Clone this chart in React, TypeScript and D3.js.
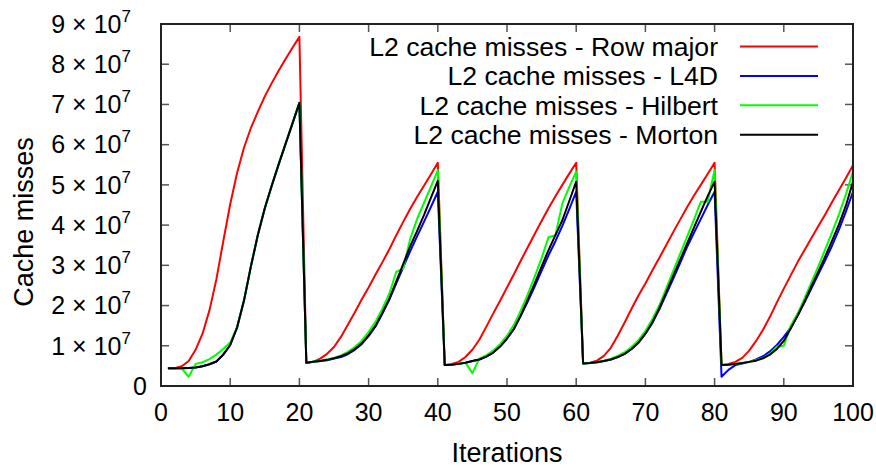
import React from "react";
import * as d3 from "d3";

// Iteration index (x) for every sample
const iterations: number[] = d3.range(1, 101);

// L2 cache misses per iteration, in millions
const rowMajor: number[] = [
  4.4, 4.4, 4.9, 6.2, 9.0, 13.0, 18.8, 26.5, 36.0, 45.2, 53.0, 59.3, 64.2, 68.2, 72.0, 75.3, 78.4, 81.3, 84.1, 86.8,
  5.7, 6.0, 6.8, 8.0, 9.7, 12.2, 15.2, 18.3, 21.5, 24.5, 27.7, 30.8, 34.0, 37.5, 40.8, 44.0, 47.0, 49.8, 52.6, 55.5,
  5.2, 5.5, 6.0, 7.2, 9.0, 11.5, 14.7, 18.0, 21.2, 24.5, 27.8, 31.2, 34.5, 37.8, 41.0, 44.2, 47.2, 50.0, 52.8, 55.5,
  5.6, 5.8, 6.3, 7.5, 9.5, 12.5, 15.8, 19.2, 22.5, 25.5, 28.7, 31.8, 35.0, 38.2, 41.3, 44.4, 47.3, 50.0, 52.7, 55.5,
  5.2, 5.5, 6.0, 7.0, 8.8, 11.2, 14.0, 17.2, 20.8, 24.2, 27.5, 30.8, 33.8, 36.8, 39.8, 42.7, 45.8, 48.8, 51.8, 54.9,
];

const l4d: number[] = [
  4.4, 4.4, 4.4, 4.5, 4.6, 4.9, 5.4, 6.1, 7.8, 10.2, 14.6, 21.3, 29.8, 37.6, 44.2, 49.8, 55.1, 60.2, 65.3, 70.4,
  5.8, 6.0, 6.2, 6.4, 6.8, 7.2, 7.9, 9.0, 10.4, 12.4, 14.8, 18.0, 21.5, 25.5, 29.5, 33.5, 37.2, 40.8, 44.5, 48.3,
  5.2, 5.3, 5.5, 5.8, 6.2, 6.6, 7.3, 8.3, 9.8, 11.8, 14.2, 17.5, 21.0, 24.7, 28.6, 32.5, 36.0, 39.8, 44.0, 48.3,
  5.6, 5.7, 5.9, 6.2, 6.6, 7.2, 8.0, 9.2, 10.8, 13.0, 15.7, 19.0, 22.8, 26.6, 30.5, 34.5, 38.0, 41.5, 45.0, 48.3,
  2.3, 4.0, 5.2, 5.6, 6.0, 6.6, 7.4, 8.6, 10.2, 12.2, 14.5, 17.5, 20.8, 24.3, 27.8, 31.3, 35.0, 39.0, 43.5, 48.3,
];

const hilbert: number[] = [
  4.4, 4.4, 4.4, 2.3, 5.5, 5.9, 6.7, 7.8, 9.2, 10.8, 14.6, 21.3, 29.8, 37.6, 44.2, 49.8, 55.1, 60.2, 65.3, 70.4,
  5.8, 6.0, 6.2, 6.6, 7.0, 7.6, 8.5, 9.7, 11.2, 13.4, 16.0, 19.2, 23.0, 28.4, 29.2, 36.5, 41.5, 45.5, 49.5, 53.7,
  5.2, 5.3, 5.5, 5.8, 3.2, 6.8, 7.6, 8.8, 10.4, 12.5, 15.2, 18.8, 22.8, 27.2, 31.8, 37.0, 37.5, 45.4, 49.5, 53.3,
  5.6, 5.7, 5.9, 6.3, 6.8, 7.5, 8.4, 9.7, 11.4, 13.7, 16.6, 20.0, 24.2, 28.5, 32.8, 37.0, 41.3, 45.8, 45.8, 53.7,
  5.2, 5.3, 5.5, 5.7, 6.0, 6.4, 7.0, 8.0, 9.8, 10.0, 15.0, 18.0, 21.8, 25.8, 29.8, 34.0, 38.3, 42.8, 47.8, 53.3,
];

const morton: number[] = [
  4.4, 4.4, 4.4, 4.5, 4.6, 4.9, 5.4, 6.1, 7.8, 10.2, 14.6, 21.3, 29.8, 37.6, 44.2, 49.8, 55.1, 60.2, 65.3, 70.4,
  5.8, 6.0, 6.2, 6.5, 6.9, 7.4, 8.1, 9.2, 10.6, 12.6, 15.0, 18.2, 21.7, 26.0, 30.3, 34.7, 38.5, 42.5, 46.8, 51.0,
  5.2, 5.3, 5.5, 5.8, 6.2, 6.6, 7.3, 8.3, 9.8, 11.8, 14.2, 17.6, 21.5, 25.5, 29.7, 33.8, 37.5, 41.2, 46.0, 50.8,
  5.6, 5.7, 5.9, 6.2, 6.6, 7.2, 8.0, 9.2, 10.8, 13.0, 15.8, 19.3, 23.3, 27.3, 31.3, 35.3, 39.3, 43.3, 47.2, 50.8,
  5.2, 5.3, 5.5, 5.7, 6.0, 6.3, 6.9, 7.8, 9.2, 11.2, 14.3, 17.5, 21.0, 24.8, 28.5, 32.3, 36.2, 40.3, 45.0, 50.8,
];

const seriesLabels: string[] = [
  "L2 cache misses - Row major",
  "L2 cache misses - L4D",
  "L2 cache misses - Hilbert",
  "L2 cache misses - Morton",
];
const seriesColors: string[] = ["#ff0000", "#0000ff", "#00ff00", "#000000"];
const seriesValues: number[][] = [rowMajor, l4d, hilbert, morton];

const xTicks: number[] = [0, 10, 20, 30, 40, 50, 60, 70, 80, 90, 100];
const yTickMantissas: number[] = [0, 1, 2, 3, 4, 5, 6, 7, 8, 9];
const yExponent = 7;

const FONT = "'Liberation Sans', Arial, sans-serif";

export default function App() {
  const W = 876;
  const H = 468;
  const left = 161;
  const right = 853;
  const top = 24;
  const bottom = 386;
  const tickLen = 8;

  const x = d3.scaleLinear().domain([0, 100]).range([left, right]);
  const y = d3.scaleLinear().domain([0, 9e7]).range([bottom, top]);

  const line = d3
    .line<number>()
    .x((_, i) => x(iterations[i]))
    .y((v) => y(v * 1e6));

  const legendTextX = 718;
  const legendLineX0 = 740;
  const legendLineX1 = 818;
  const legendY0 = 46.5;
  const legendStep = 29.4;

  return (
    <svg
      width={W}
      height={H}
      viewBox={`0 0 ${W} ${H}`}
      style={{ position: "absolute", left: 0, top: 0, background: "#fff" }}
      fontFamily={FONT}
    >
      <rect x={0} y={0} width={W} height={H} fill="#fff" />

      {/* tick marks, mirrored on all four sides */}
      <g stroke="#555" strokeWidth={1.5}>
        {xTicks.map((t) => (
          <g key={`xt${t}`}>
            <line x1={x(t)} x2={x(t)} y1={bottom} y2={bottom - tickLen} />
            <line x1={x(t)} x2={x(t)} y1={top} y2={top + tickLen} />
          </g>
        ))}
        {yTickMantissas.map((m) => (
          <g key={`yt${m}`}>
            <line x1={left} x2={left + tickLen} y1={y(m * 10 ** yExponent)} y2={y(m * 10 ** yExponent)} />
            <line x1={right} x2={right - tickLen} y1={y(m * 10 ** yExponent)} y2={y(m * 10 ** yExponent)} />
          </g>
        ))}
      </g>

      {/* series */}
      <g fill="none" strokeWidth={2} strokeLinejoin="round">
        {seriesValues.map((vals, i) => (
          <path key={seriesLabels[i]} d={line(vals) || ""} stroke={seriesColors[i]} />
        ))}
      </g>

      {/* frame */}
      <rect
        x={left}
        y={top}
        width={right - left}
        height={bottom - top}
        fill="none"
        stroke="#222"
        strokeWidth={2}
      />

      {/* x tick labels */}
      <g fontSize={25} textAnchor="middle" fill="#000">
        {xTicks.map((t) => (
          <text key={`xl${t}`} x={x(t)} y={421}>
            {t}
          </text>
        ))}
      </g>

      {/* y tick labels */}
      <g fontSize={25} textAnchor="end" fill="#000">
        {yTickMantissas.map((m) =>
          m === 0 ? (
            <text key={`yl${m}`} x={147} y={y(0)} dy="0.35em">
              0
            </text>
          ) : (
            <text key={`yl${m}`} x={131} y={y(m * 10 ** yExponent)} dy="0.35em">
              <tspan>{m}</tspan>
              <tspan dx={7}>×</tspan>
              <tspan dx={7}>10</tspan>
              <tspan fontSize={17} dy={-11}>
                {yExponent}
              </tspan>
            </text>
          )
        )}
      </g>

      {/* axis titles */}
      <text x={(left + right) / 2} y={462} fontSize={27} textAnchor="middle">
        Iterations
      </text>
      <text transform={`translate(33,222) rotate(-90)`} fontSize={27} textAnchor="middle">
        Cache misses
      </text>

      {/* legend */}
      <g>
        {seriesLabels.map((label, i) => {
          const ly = legendY0 + i * legendStep;
          return (
            <g key={`lg${i}`}>
              <text x={legendTextX} y={ly} dy="0.35em" fontSize={26.6} textAnchor="end">
                {label}
              </text>
              <line x1={legendLineX0} x2={legendLineX1} y1={ly} y2={ly} stroke={seriesColors[i]} strokeWidth={2} />
            </g>
          );
        })}
      </g>
    </svg>
  );
}
